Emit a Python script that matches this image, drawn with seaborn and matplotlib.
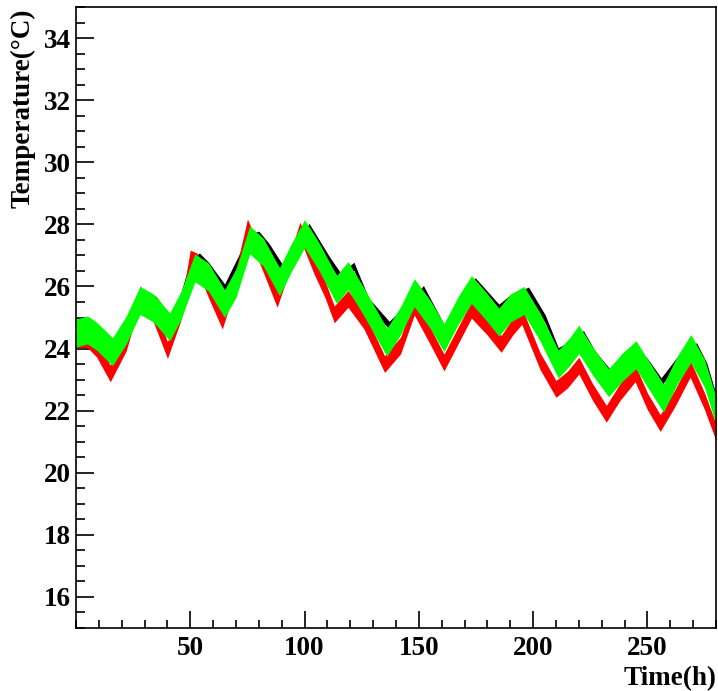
import numpy as np
import pandas as pd
import matplotlib
matplotlib.use("Agg")
import matplotlib.pyplot as plt
from matplotlib.ticker import MultipleLocator
import seaborn as sns

# ---- data (time in h, temperature in deg C) ----
black_t = [0, 5, 9, 16, 22, 29, 35, 41.5, 46, 50, 54, 58, 65, 70, 76, 80, 84.5, 91, 96,
           102, 110.7, 115.8, 121.6, 128, 137, 142, 152, 161, 168, 174.7, 185, 190, 198,
           205.3, 211, 216, 222, 227, 233.7, 239, 244, 250, 256, 263, 271.5, 276, 280]
black_T = [24.4, 24.7, 24.6, 24.1, 24.8, 25.75, 25.55, 24.9, 25.7, 26.7, 26.95, 26.65, 25.95,
           26.7, 27.6, 27.65, 27.25, 26.5, 27.3, 27.9, 26.85, 26.3, 26.65, 25.5, 24.75, 25.1,
           25.9, 24.65, 25.5, 26.15, 25.3, 25.6, 25.85, 24.95, 23.9, 24.1, 24.45, 23.8, 23.2,
           23.7, 24.0, 23.55, 22.93, 23.6, 24.06, 23.4, 22.4]
black_spread = 0.13

red_t = [0, 5, 9, 15, 22, 28, 34, 40, 46, 50, 53, 58, 64, 70, 75, 81, 88, 94, 98, 104,
         109, 113, 119, 126, 135, 142, 148, 155, 161, 167, 173, 180, 186, 191, 195, 203,
         210, 215, 220, 226, 232, 238, 244.6, 250, 255.6, 262, 268.7, 275, 280]
red_T = [24.3, 24.3, 24.0, 23.2, 24.2, 25.75, 25.1, 23.95, 25.2, 26.9, 26.8, 25.9, 24.9,
         26.3, 27.9, 26.9, 25.6, 26.9, 27.8, 26.7, 25.9, 25.1, 25.6, 24.9, 23.5, 24.1,
         25.35, 24.4, 23.55, 24.4, 25.25, 24.7, 24.15, 24.7, 25.05, 23.6, 22.7, 23.0,
         23.45, 22.6, 21.9, 22.6, 23.2, 22.3, 21.6, 22.4, 23.35, 22.3, 21.3]
red_spread = 0.27

green_t = [0, 5, 9, 16, 22, 28, 34, 41, 46, 52, 58, 65, 70, 76, 82, 89, 94, 100, 106,
           114, 119, 126, 136, 142, 148, 155, 161, 167, 173, 179, 185, 190, 196, 203,
           211, 216, 220, 226, 233, 239, 245, 251, 257, 263, 269, 275, 280]
green_T = [24.5, 24.6, 24.4, 23.9, 24.6, 25.55, 25.3, 24.7, 25.4, 26.6, 26.3, 25.45, 26.1,
           27.5, 27.1, 26.15, 26.9, 27.7, 27.0, 25.9, 26.35, 25.5, 24.2, 24.9, 25.8, 25.1,
           24.35, 25.2, 25.9, 25.4, 24.85, 25.3, 25.55, 24.7, 23.5, 23.9, 24.3, 23.6, 22.9,
           23.4, 23.8, 23.1, 22.4, 23.3, 24.0, 23.2, 22.0]
green_spread = 0.45

x_ticks = [50, 100, 150, 200, 250]
y_ticks = [16, 18, 20, 22, 24, 26, 28, 30, 32, 34]

# ---- build long table: each time has a lower and an upper observation ----
rows = []
for name, ts, Ts, sp in [("black", black_t, black_T, black_spread),
                         ("red", red_t, red_T, red_spread),
                         ("green", green_t, green_T, green_spread)]:
    for t, T in zip(ts, Ts):
        rows.append((name, t, T - sp))
        rows.append((name, t, T + sp))
df = pd.DataFrame(rows, columns=["series", "time", "temp"])

sns.set_theme(style="white")
plt.rcParams["font.family"] = ["Liberation Serif", "DejaVu Serif"]
plt.rcParams["font.weight"] = "bold"
plt.rcParams["text.color"] = "black"

fig = plt.figure(figsize=(7.18, 6.91), dpi=100)
ax = fig.add_axes([76 / 718, 1 - 628 / 691, 640 / 718, 621 / 691])

sns.lineplot(data=df, x="time", y="temp", hue="series",
             hue_order=["black", "red", "green"],
             palette={"black": "#000000", "red": "#ff0000", "green": "#00ff00"},
             estimator="mean", errorbar=("pi", 100),
             err_kws={"alpha": 1.0, "linewidth": 0},
             linewidth=0, legend=False, ax=ax)

ax.set_xlim(0, 280)
ax.set_ylim(15, 35)
ax.set_xticks(x_ticks)
ax.set_yticks(y_ticks)
ax.xaxis.set_minor_locator(MultipleLocator(10))
ax.yaxis.set_minor_locator(MultipleLocator(0.5))
ax.set_xlabel("")
ax.set_ylabel("")

ax.tick_params(axis="both", which="both", direction="in", top=False, right=False,
               left=True, bottom=True, colors="black", width=1.2)
ax.tick_params(axis="y", which="major", length=13, pad=3.5, labelsize=19.5)
ax.tick_params(axis="y", which="minor", length=6.5)
ax.tick_params(axis="x", which="major", length=12, pad=5.5, labelsize=19.5)
ax.tick_params(axis="x", which="minor", length=5.5)
for lab in ax.get_xticklabels() + ax.get_yticklabels():
    lab.set_fontweight("bold")
    lab.set_color("black")

for s in ax.spines.values():
    s.set_visible(True)
    s.set_color("black")
    s.set_linewidth(1.2)

fig.text(23 / 718, 1 - 9 / 691, "Temperature(°C)", rotation=90, ha="center", va="top",
         fontsize=19.5, fontweight="bold", color="black")
fig.text(717 / 718, 1 - 685 / 691, "Time(h)", ha="right", va="baseline",
         fontsize=19.5, fontweight="bold", color="black")

fig.savefig("out.png", dpi=100, facecolor="white")
